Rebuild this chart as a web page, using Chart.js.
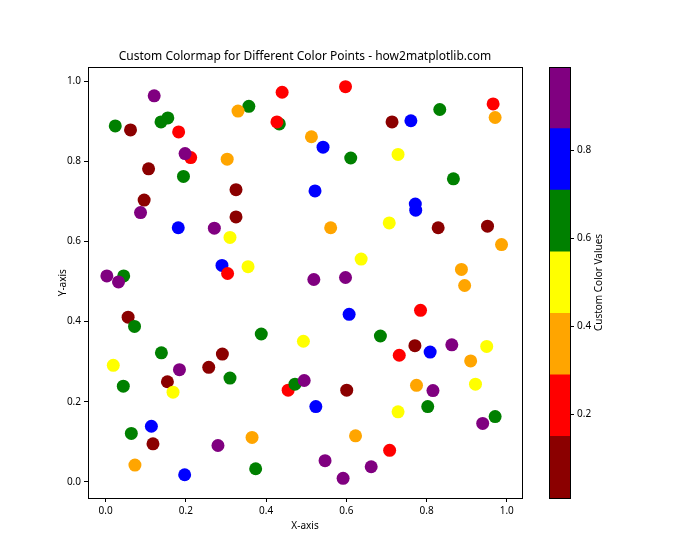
<!DOCTYPE html>
<html lang="en">
<head>
<meta charset="UTF-8" />
<title>Custom Colormap for Different Color Points</title>
<style>
    body {
        margin: 0;
        background: #fff;
    }

    #wrap {
        position: relative;
        width: 700px;
        height: 560px;
    }

    canvas {
        position: absolute;
        top: 0;
    }

    #mainChart { left: 0; }
    #colorbar { left: 520px; }
</style>
</head>
<body>
<div id="wrap">
    <canvas id="mainChart" width="700" height="560"></canvas>
    <canvas id="colorbar" width="180" height="560"></canvas>
</div>

<script src="https://cdn.jsdelivr.net/npm/chart.js@4"></script>
<script>
    // point positions
    const xValues = [
        0.121, 0.440, 0.357, 0.330, 0.024, 0.062, 0.138, 0.155, 0.182, 0.433,
        0.427, 0.212, 0.198, 0.303, 0.107, 0.194, 0.325, 0.096, 0.087, 0.325,
        0.181, 0.271, 0.310, 0.290, 0.355, 0.304, 0.003, 0.045, 0.032, 0.598,
        0.966, 0.971, 0.833, 0.714, 0.761, 0.513, 0.542, 0.611, 0.729, 0.867,
        0.522, 0.772, 0.773, 0.561, 0.707, 0.829, 0.952, 0.987, 0.637, 0.887,
        0.519, 0.598, 0.895, 0.785, 0.607, 0.685, 0.771, 0.732, 0.809, 0.863,
        0.950, 0.910, 0.493, 0.601, 0.775, 0.816, 0.922, 0.524, 0.729, 0.803,
        0.971, 0.940, 0.623, 0.708, 0.547, 0.662, 0.592, 0.056, 0.072, 0.388,
        0.139, 0.291, 0.019, 0.184, 0.257, 0.154, 0.310, 0.044, 0.168, 0.455,
        0.472, 0.495, 0.114, 0.064, 0.118, 0.280, 0.365, 0.073, 0.197, 0.374
    ];
    const yValues = [
        0.963, 0.972, 0.937, 0.925, 0.888, 0.878, 0.898, 0.908, 0.873, 0.893,
        0.898, 0.809, 0.819, 0.805, 0.781, 0.762, 0.729, 0.703, 0.672, 0.661,
        0.634, 0.633, 0.610, 0.540, 0.537, 0.520, 0.514, 0.514, 0.499, 0.986,
        0.943, 0.909, 0.929, 0.898, 0.901, 0.861, 0.835, 0.808, 0.817, 0.756,
        0.726, 0.693, 0.678, 0.634, 0.646, 0.634, 0.638, 0.592, 0.556, 0.530,
        0.505, 0.510, 0.490, 0.428, 0.418, 0.364, 0.340, 0.316, 0.324, 0.342,
        0.338, 0.302, 0.351, 0.229, 0.241, 0.228, 0.244, 0.188, 0.175, 0.188,
        0.163, 0.146, 0.115, 0.079, 0.053, 0.038, 0.009, 0.411, 0.388, 0.369,
        0.322, 0.319, 0.291, 0.280, 0.286, 0.250, 0.259, 0.239, 0.224, 0.229,
        0.244, 0.253, 0.139, 0.121, 0.095, 0.091, 0.111, 0.042, 0.018, 0.033
    ];
    // colour value of each point (only the band can be read)
    const colorValues = [
        0.93, 0.21, 0.64, 0.36, 0.61, 0.08, 0.67, 0.59, 0.24, 0.66,
        0.18, 0.27, 0.89, 0.33, 0.11, 0.62, 0.05, 0.13, 0.96, 0.07,
        0.78, 0.91, 0.49, 0.74, 0.52, 0.22, 0.87, 0.69, 0.94, 0.19,
        0.26, 0.39, 0.63, 0.10, 0.81, 0.31, 0.76, 0.65, 0.46, 0.60,
        0.83, 0.73, 0.79, 0.41, 0.54, 0.04, 0.12, 0.35, 0.50, 0.38,
        0.92, 0.88, 0.32, 0.25, 0.77, 0.68, 0.09, 0.20, 0.80, 0.97,
        0.47, 0.40, 0.53, 0.06, 0.34, 0.90, 0.56, 0.75, 0.48, 0.61,
        0.66, 0.95, 0.37, 0.23, 0.89, 0.98, 0.90, 0.03, 0.62, 0.67,
        0.58, 0.14, 0.44, 0.93, 0.08, 0.11, 0.64, 0.70, 0.51, 0.28,
        0.60, 0.95, 0.82, 0.63, 0.05, 0.91, 0.42, 0.30, 0.72, 0.65
    ];

    const bandColors = ['#8b0000', '#ff0000', '#ffa500', '#ffff00', '#008000', '#0000ff', '#800080'];
    const colorMin = 0.01;
    const colorMax = 0.99;

    const xTicks = [0.0, 0.2, 0.4, 0.6, 0.8, 1.0];
    const yTicks = [0.0, 0.2, 0.4, 0.6, 0.8, 1.0];
    const colorbarTicks = [0.2, 0.4, 0.6, 0.8];

    const titleText = 'Custom Colormap for Different Color Points - how2matplotlib.com';
    const colorbarLabelText = 'Custom Color Values';

    Chart.defaults.font.family = '"Noto Sans", "DejaVu Sans", sans-serif';
    Chart.defaults.font.size = 10;
    Chart.defaults.color = '#000';

    function colorFor(v) {
        const n = bandColors.length;
        const i = Math.floor((v - colorMin) / (colorMax - colorMin) * n);
        return bandColors[Math.max(0, Math.min(n - 1, i))];
    }

    // black box round the plot area, like the matplotlib spines
    const frame = {
        id: 'frame',
        afterDraw(chart) {
            const { ctx, chartArea: a } = chart;
            ctx.save();
            ctx.strokeStyle = '#000';
            ctx.lineWidth = 1;
            const l = Math.round(a.left) + 0.5, t = Math.round(a.top) + 0.5;
            ctx.strokeRect(l, t, Math.round(a.right) - Math.round(a.left), Math.round(a.bottom) - Math.round(a.top));
            ctx.restore();
        }
    };

    const tickGrid = { drawOnChartArea: false, drawTicks: true, tickLength: 4, tickColor: '#000' };

    new Chart(document.getElementById('mainChart'), {
        type: 'scatter',
        data: {
            datasets: [{
                data: xValues.map((x, i) => ({ x, y: yValues[i] })),
                pointBackgroundColor: colorValues.map(colorFor),
                pointBorderWidth: 0,
                pointRadius: 6.5
            }]
        },
        options: {
            responsive: false,
            animation: false,
            events: [],
            layout: { padding: { left: 48, right: 178, top: 49, bottom: 22 } },
            plugins: {
                legend: { display: false },
                tooltip: { enabled: false },
                title: {
                    display: true,
                    fullSize: false,
                    text: titleText,
                    font: { size: 12, weight: 'normal' },
                    padding: { top: 0, bottom: 4 }
                }
            },
            scales: {
                x: {
                    type: 'linear',
                    min: -0.044,
                    max: 1.038,
                    afterBuildTicks: s => { s.ticks = xTicks.map(v => ({ value: v })); },
                    afterFit: s => { s.height = 40; },
                    grid: tickGrid,
                    border: { display: false },
                    ticks: { padding: 3, maxRotation: 0, autoSkip: false, callback: v => v.toFixed(1) },
                    title: { display: true, text: 'X-axis', padding: { top: 0, bottom: 6 } }
                },
                y: {
                    type: 'linear',
                    min: -0.040,
                    max: 1.034,
                    afterBuildTicks: s => { s.ticks = yTicks.map(v => ({ value: v })); },
                    afterFit: s => { s.width = 40; },
                    grid: tickGrid,
                    border: { display: false },
                    ticks: { padding: 3, autoSkip: false, callback: v => v.toFixed(1) },
                    title: { display: true, text: 'Y-axis', padding: { top: 9, bottom: 0 } }
                }
            }
        },
        plugins: [frame]
    });

    // colorbar: one floating bar per colour band
    const bandStep = (colorMax - colorMin) / bandColors.length;

    const colorbarLabel = {
        id: 'colorbarLabel',
        afterDraw(chart) {
            const { ctx, chartArea: a } = chart;
            ctx.save();
            ctx.translate(a.right + 29, (a.top + a.bottom) / 2);
            ctx.rotate(-Math.PI / 2);
            ctx.font = '10px "Noto Sans", "DejaVu Sans", sans-serif';
            ctx.fillStyle = '#000';
            ctx.textAlign = 'center';
            ctx.textBaseline = 'middle';
            ctx.fillText(colorbarLabelText, 0, 0);
            ctx.restore();
        }
    };

    new Chart(document.getElementById('colorbar'), {
        type: 'bar',
        data: {
            labels: [''],
            datasets: bandColors.map((c, i) => ({
                data: [[colorMin + i * bandStep, colorMin + (i + 1) * bandStep]],
                backgroundColor: c,
                borderWidth: 0,
                barPercentage: 1,
                categoryPercentage: 1,
                grouped: false
            }))
        },
        options: {
            responsive: false,
            animation: false,
            events: [],
            layout: { padding: { left: 29, right: 70, top: 67, bottom: 62 } },
            plugins: {
                legend: { display: false },
                tooltip: { enabled: false }
            },
            scales: {
                x: { display: false },
                y: {
                    position: 'right',
                    min: colorMin,
                    max: colorMax,
                    afterBuildTicks: s => { s.ticks = colorbarTicks.map(v => ({ value: v })); },
                    afterFit: s => { s.width = 60; },
                    grid: tickGrid,
                    border: { display: false },
                    ticks: { padding: 3, autoSkip: false, callback: v => v.toFixed(1) }
                }
            }
        },
        plugins: [frame, colorbarLabel]
    });
</script>
</body>
</html>
